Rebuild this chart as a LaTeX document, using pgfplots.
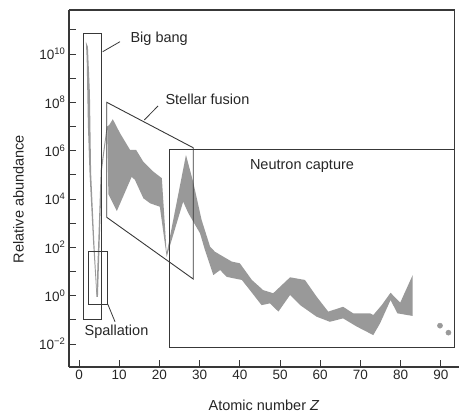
\documentclass[border=0pt]{standalone}
\usepackage{fontspec}
\setmainfont{Liberation Sans}
\usepackage{pgfplots}
\pgfplotsset{compat=1.18}
\definecolor{band}{gray}{0.6}
\definecolor{frame}{gray}{0.22}
\begin{document}
\begin{tikzpicture}[x=1pt,y=1pt]
\begin{axis}[
  at={(69pt,47pt)}, anchor=south west,
  scale only axis, width=389.9pt, height=357pt,
  xmin=-2.5, xmax=94.5,
  ymode=log, ymin=1.12e-3, ymax=6.6e11,
  axis x line=bottom, axis y line=left,
  axis line style={-, frame, line width=1.1pt},
  tick align=inside, major tick length=7pt, minor tick length=7pt,
  every tick/.style={frame, line width=0.9pt},
  xtick={0,10,...,90},
  ytick={1e-2,1,1e2,1e4,1e6,1e8,1e10},
  yticklabels={10\textsuperscript{−2},10\textsuperscript{0},10\textsuperscript{2},10\textsuperscript{4},10\textsuperscript{6},10\textsuperscript{8},10\textsuperscript{10}},
  minor ytick={1e-1,1e1,1e3,1e5,1e7,1e9,1e11},
  ticklabel style={font=\fontsize{13.5}{15}\selectfont, text=black!85},
  /pgf/number format/assume math mode=true,
  clip=false,
]
% Big bang sliver (H, He down to Be)
\addplot[fill=band, draw=none] coordinates {
  (1.7,3.16e10) (2.2,2.0e10) (2.7,2.5e8) (3.0,1.26e5) (3.8,158) (4.5,1.0)
  (4.3,1.26) (3.5,158) (2.6,1.26e5) (2.2,1.15e7) (1.9,6.3e9)
} -- cycle;
% rise from Be towards C
\addplot[fill=band, draw=none] coordinates {
  (4.3,0.9) (4.7,0.9) (5.7,1.6e5) (7.1,1.0e7) (6.9,1.0e7) (5.4,1.6e5)
} -- cycle;
% abundance band, C to Bi: upper edge then lower edge
\addplot[fill=band, draw=none] coordinates {
  (7.0,1.0e7) (7.5,1.15e7) (8.4,2.0e7) (10.2,5.25e6) (12.7,1.07e6) (14.2,1.07e6)
  (16.0,3.47e5) (18.5,1.35e5) (20.6,7.24e4) (21.8,56) (26.6,6.61e5) (28.4,5.0e4)
  (30.5,1.35e3) (32.6,107) (33.8,66) (35.9,41) (38.0,25.7) (40.0,21.9)
  (43.0,4.47) (45.8,1.70) (48.3,1.26) (52.5,5.75) (56.2,4.47) (59.1,0.912)
  (62.0,0.219) (65.7,0.347) (68.2,0.186) (72.4,0.186) (73.2,0.158) (75.3,0.407)
  (77.5,1.32) (79.9,0.513) (83.0,7.08)
  (83.0,0.145) (79.2,0.186) (77.5,0.661) (74.9,0.0724) (73.2,0.0234) (69.1,0.0525)
  (65.7,0.115) (62.4,0.0832) (59.1,0.135) (55.0,0.407) (52.5,1.07) (49.6,0.219)
  (47.5,0.479) (45.4,0.407) (42.5,1.70) (40.5,4.47) (38.4,5.25) (36.7,6.03)
  (35.1,11.5) (33.4,7.08) (31.3,79.4) (30.1,380) (27.2,2.57e3) (25.9,7.76e3)
  (21.8,40.7) (20.1,4.79e3) (17.7,6.61e3) (16.0,1.07e4) (13.9,6.17e4) (13.1,8.32e4)
  (9.4,3.16e3) (7.3,1.58e4)
} -- cycle;
% Th and U
\addplot[only marks, mark=*, mark size=2.6pt, band] coordinates {(89.8,0.0575) (91.9,0.0295)};

% process regions
\draw[frame, line width=0.9pt] (axis cs:1.07,0.107) rectangle (axis cs:5.6,7.4e10);
\draw[frame, line width=0.9pt] (axis cs:2.24,0.447) rectangle (axis cs:7.1,70.8);
\draw[frame, line width=0.9pt] (axis cs:6.9,1e8) -- (axis cs:28.4,1.32e6) -- (axis cs:28.4,4.9) -- (axis cs:6.9,1.74e3) -- cycle;
\draw[frame, line width=0.9pt] (axis cs:22.4,7.08e-3) rectangle (axis cs:93.3,1.15e6);
% outer frame, top and right
\draw[frame, line width=1.1pt] (rel axis cs:0,1) -- (axis cs:93.3,6.6e11) -- (axis cs:93.3,7.08e-3);
\end{axis}

% labels and leaders
\begin{scope}[every node/.style={font=\fontsize{14.5}{16}\selectfont, text=black!85}]
\node[anchor=west] at (127,375) {Big bang};
\draw[frame, line width=0.8pt] (102.7,362.3) -- (120,372.3);
\node[anchor=west] at (162,315) {Stellar fusion};
\draw[frame, line width=0.8pt] (144.3,294) -- (158,308);
\node at (302,248) {Neutron capture};
\node at (116.5,82.3) {Spallation};
\draw[frame, line width=0.8pt] (107.7,110) -- (115,92.3);
\node[rotate=90] at (18.5,215) {Relative abundance};
\node at (264,9) {Atomic number \textit{Z}};
\end{scope}

\pgfresetboundingbox
\path (0,0) rectangle (459,414);
\end{tikzpicture}
\end{document}
